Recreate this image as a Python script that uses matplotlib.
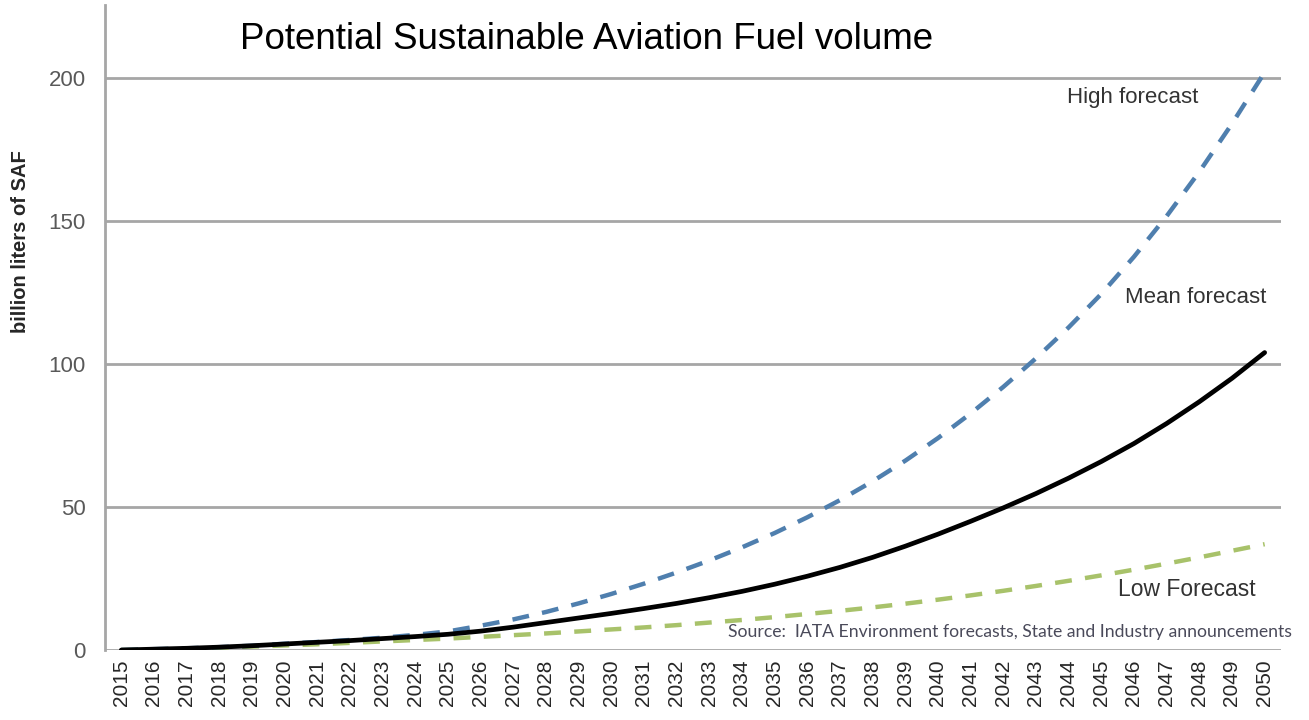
import numpy as np
import matplotlib
matplotlib.use("Agg")
import matplotlib.pyplot as plt

years = [str(y) for y in range(2015, 2051)]

# billion liters of SAF
high_forecast = [0.0, 0.3, 0.6, 1.0, 1.5, 2.2, 2.8, 3.5, 4.3, 5.3,
                 6.5, 8.5, 10.7, 13.3, 16.3, 19.6, 23.2, 27.1, 31.3, 35.9,
                 40.9, 46.4, 52.4, 59.0, 66.2, 74.1, 82.7, 92.0, 102.0, 112.8,
                 124.5, 137.5, 151.7, 167.2, 184.0, 202.0]
mean_forecast = [0.0, 0.3, 0.6, 1.0, 1.5, 2.1, 2.7, 3.3, 4.0, 4.7,
                 5.5, 6.6, 8.0, 9.6, 11.2, 12.8, 14.5, 16.3, 18.3, 20.5,
                 23.0, 25.8, 28.9, 32.4, 36.3, 40.5, 45.0, 49.7, 54.7, 60.1,
                 65.9, 72.2, 79.2, 86.8, 95.0, 104.0]
low_forecast = [0.0, 0.2, 0.5, 0.8, 1.2, 1.6, 2.0, 2.5, 3.0, 3.5,
                4.0, 4.6, 5.2, 5.8, 6.5, 7.2, 7.9, 8.7, 9.6, 10.5,
                11.5, 12.6, 13.7, 14.9, 16.2, 17.6, 19.1, 20.7, 22.4, 24.2,
                26.1, 28.1, 30.2, 32.4, 34.7, 37.0]

y_ticks = [0, 50, 100, 150, 200]

plt.rcParams["font.family"] = ["Liberation Sans", "DejaVu Sans"]

fig = plt.figure(figsize=(13.09, 7.2), dpi=100)
ax = fig.add_axes([0.0802, 0.0972, 0.8984, 0.8958])

x = np.arange(len(years))
ax.plot(x, low_forecast, color="#a8c26a", lw=3.2, dashes=(3.8, 3.0), zorder=3)
ax.plot(x, high_forecast, color="#4f7fae", lw=3.2, dashes=(3.8, 3.0), zorder=4)
ax.plot(x, mean_forecast, color="black", lw=3.4, solid_capstyle="round", zorder=5)

ax.set_xlim(-0.5, len(years) - 0.5)
ax.set_ylim(0, 225.5)
ax.set_yticks(y_ticks)
ax.set_yticklabels([str(v) for v in y_ticks], fontsize=16, color="#595959")
ax.set_xticks(x)
ax.set_xticklabels(years, rotation=90, fontsize=15, color="#262626")
ax.tick_params(axis="both", length=0)
ax.tick_params(axis="y", pad=14)
ax.tick_params(axis="x", pad=7)

ax.grid(axis="y", color="#a6a6a6", lw=2)
ax.set_axisbelow(True)
for side in ("top", "right", "bottom"):
    ax.spines[side].set_visible(False)
ax.spines["left"].set_color("#a6a6a6")
ax.spines["left"].set_linewidth(2)

fig.text(0.016, 0.665, "billion liters of SAF", rotation=90, ha="center", va="center",
         fontsize=14.5, fontweight="bold", color="#262626")

fig.text(0.183, 0.945, "Potential Sustainable Aviation Fuel volume", fontsize=26.5,
         ha="left", va="center", color="black")

ax.text(28.95, 193, "High forecast", fontsize=16, color="#333333", ha="left", va="center")
ax.text(30.72, 123.4, "Mean forecast", fontsize=16, color="#333333", ha="left", va="center")
ax.text(30.5, 21, "Low Forecast", fontsize=16.5, color="#333333", ha="left", va="center")
ax.text(18.57, 6.3, "Source:  IATA Environment forecasts, State and Industry announcements",
        fontsize=12.7, color="#4a4a5a", ha="left", va="center", family=["Lato", "DejaVu Sans"])

fig.savefig("out.png", dpi=100)
